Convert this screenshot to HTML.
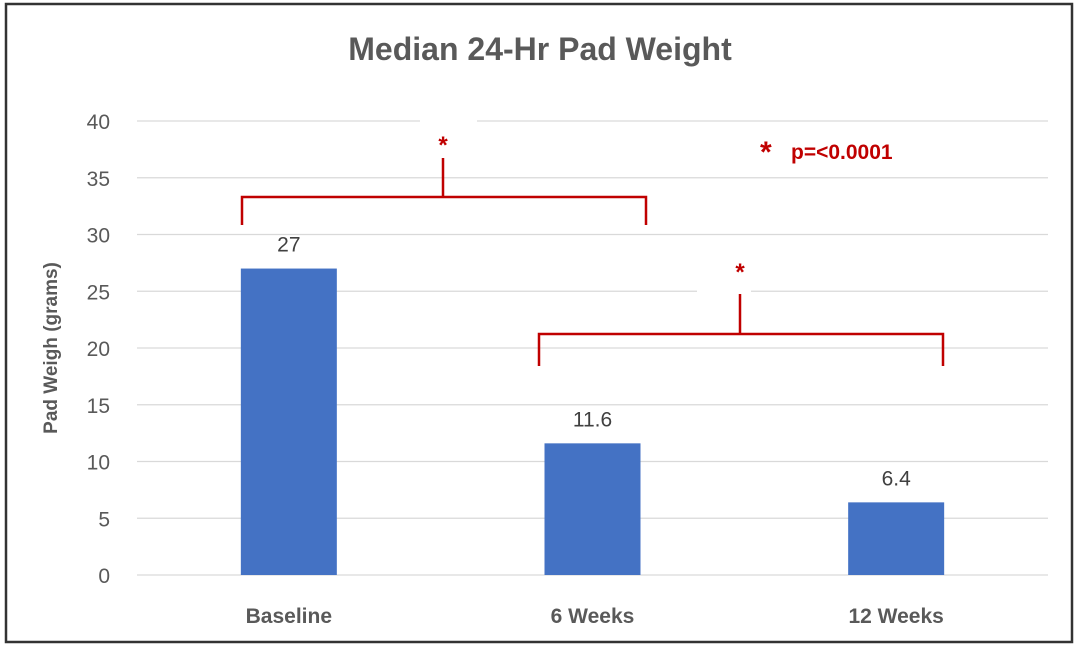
<!DOCTYPE html>
<html><head><meta charset="utf-8"><style>
html,body{margin:0;padding:0;background:#fff;}
svg{display:block;font-family:"Liberation Sans",Arial,sans-serif;}
</style></head><body>
<svg id="chart" width="1080" height="647" viewBox="0 0 1080 647">
<rect x="6" y="4" width="1066" height="638" fill="#fff" stroke="#333" stroke-width="2.5"/>
<text x="540" y="60" text-anchor="middle" font-size="32" font-weight="bold" fill="#595959">Median 24-Hr Pad Weight</text>
<g id="grid"></g>
<g id="yticks"></g>
<text transform="translate(57,348) rotate(-90)" text-anchor="middle" font-size="19" font-weight="bold" fill="#595959">Pad Weigh (grams)</text>
<g id="bars"></g>
<g id="labels"></g>
<g id="xlabels"></g>
<g fill="none" stroke="#c00000" stroke-width="2.5">
<path d="M242,225 V197 H646 V225 M443,197 V158"/>
<path d="M539,366 V334 H943 V366 M740,334 V291"/>
</g>
<rect x="420" y="118" width="57" height="6" fill="#fff"/>
<rect x="697" y="288" width="54" height="6" fill="#fff"/>
<text x="443" y="153" text-anchor="middle" font-size="24" font-weight="bold" fill="#c00000">*</text>
<text x="740" y="280" text-anchor="middle" font-size="24" font-weight="bold" fill="#c00000">*</text>
<text x="760" y="162" font-size="30" font-weight="bold" fill="#c00000">*</text>
<text x="791" y="159" font-size="21" font-weight="bold" fill="#c00000">p=&lt;0.0001</text>
</svg>
<script>
const categories = ["Baseline", "6 Weeks", "12 Weeks"];
const values = [27, 11.6, 6.4];
const valueLabels = ["27", "11.6", "6.4"];
const yTicks = [0, 5, 10, 15, 20, 25, 30, 35, 40];

const NS = "http://www.w3.org/2000/svg";
const x0 = 137, x1 = 1048, yBase = 575, yTop = 121, yMax = 40;
const band = (x1 - x0) / categories.length;
function xC(i){ return x0 + band * (i + 0.5); }
function yS(v){ return yBase - (v / yMax) * (yBase - yTop); }
function mk(tag, attrs, parent){
  const e = document.createElementNS(NS, tag);
  for (const k in attrs) e.setAttribute(k, attrs[k]);
  parent.appendChild(e);
  return e;
}
const grid = document.getElementById("grid");
const yt = document.getElementById("yticks");
yTicks.forEach(t => {
  const l = mk("line", {x1: x0, x2: x1, y1: yS(t), y2: yS(t), stroke: "#d9d9d9", "stroke-width": 1.3}, grid);
  
  
  const tx = mk("text", {x: 110, y: yS(t) + 8, "text-anchor": "end", "font-size": 21, fill: "#595959"}, yt);
  tx.textContent = t;
  
  
});
const bars = document.getElementById("bars");
const labs = document.getElementById("labels");
const xl = document.getElementById("xlabels");
const bw = 96;
categories.forEach((c, i) => {
  const r = mk("rect", {x: xC(i) - bw/2, y: yS(values[i]), width: bw, height: yBase - yS(values[i]), fill: "#4472c4"}, bars);
  
  
  const t = mk("text", {x: xC(i), y: yS(values[i]) - 17, "text-anchor": "middle", "font-size": 21, fill: "#404040"}, labs);
  t.textContent = valueLabels[i];
  
  
  const x = mk("text", {x: xC(i), y: 623, "text-anchor": "middle", "font-size": 21, "font-weight": "bold", fill: "#595959"}, xl);
  x.textContent = c;
  
  
});
</script>
</body></html>
